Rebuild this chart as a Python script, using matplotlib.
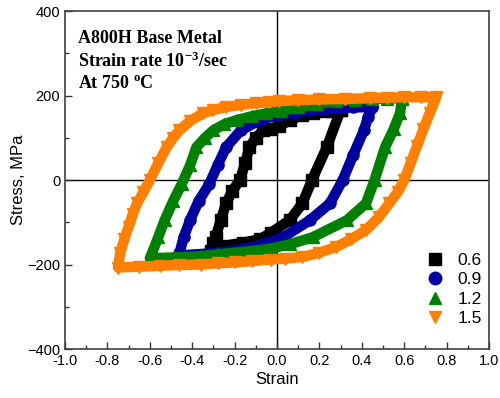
import matplotlib
matplotlib.use("Agg")
import matplotlib.pyplot as plt
from matplotlib.ticker import MultipleLocator, FormatStrFormatter

# hysteresis loops: (strain %, stress MPa)
# each loop starts at the tension tip, runs down the unloading branch,
# along the compression side and back up
labels = ["0.6", "0.9", "1.2", "1.5"]

strain_06 = [0.30, 0.235, 0.165, 0.12, 0.06, -0.03, -0.08, -0.16, -0.24, -0.31,
             -0.30, -0.29, -0.265, -0.24, -0.21, -0.175, -0.15, -0.13, -0.10, -0.065,
             -0.03, 0.01, 0.06, 0.12, 0.17, 0.22, 0.26, 0.30]
stress_06 = [166, 78, 0, -55, -95, -125, -140, -148, -155, -168,
             -150, -135, -95, -55, -25, 0, 40, 78, 100, 118,
             122, 127, 142, 154, 159, 163, 164, 166]

strain_09 = [0.45, 0.43, 0.41, 0.36, 0.31, 0.25, 0.155, 0.03, -0.05, -0.13, -0.21, -0.33, -0.45,
             -0.46, -0.44, -0.41, -0.37, -0.32, -0.28, -0.24, -0.17, -0.08, 0.01, 0.08,
             0.15, 0.22, 0.28, 0.36, 0.45]
stress_09 = [172, 150, 118, 60, 0, -55, -95, -135, -150, -160, -168, -174, -178,
             -173, -135, -95, -50, -10, 35, 78, 118, 142, 155, 160,
             165, 168, 170, 172, 173]

strain_12 = [0.59, 0.58, 0.55, 0.51, 0.46, 0.42, 0.33, 0.17, 0.06, -0.03, -0.12, -0.20, -0.28, -0.36, -0.48, -0.60,
             -0.59, -0.56, -0.53, -0.49, -0.45, -0.41, -0.38, -0.34, -0.30, -0.25, -0.19, -0.12, -0.05,
             0.02, 0.10, 0.19, 0.28, 0.37, 0.45, 0.52, 0.59]
stress_12 = [192, 158, 120, 78, 0, -55, -95, -135, -152, -162, -168, -172, -176, -180, -183, -185,
             -173, -135, -95, -50, -10, 35, 78, 100, 118, 132, 142, 151, 158,
             164, 172, 180, 188, 190, 192, 193, 194]

strain_15 = [0.75, 0.72, 0.69, 0.66, 0.63, 0.60, 0.57, 0.53, 0.48, 0.42, 0.35, 0.28, 0.20, 0.12, 0.04,
             -0.03, -0.12, -0.20, -0.28, -0.36, -0.46, -0.55, -0.65, -0.75,
             -0.74, -0.72, -0.70, -0.68, -0.66, -0.63, -0.60, -0.56, -0.52, -0.49, -0.46, -0.41,
             -0.35, -0.30, -0.24, -0.17, -0.10, -0.04, 0.01, 0.10, 0.20, 0.32, 0.44, 0.52, 0.60, 0.68, 0.75]
stress_15 = [195, 158, 120, 80, 40, 0, -28, -55, -88, -118, -140, -158, -172, -182, -186,
             -188, -192, -195, -197, -200, -201, -203, -205, -207,
             -173, -140, -110, -80, -55, -28, 0, 40, 78, 100, 118, 140,
             158, 166, 173, 178, 182, 184, 187, 189, 191, 192, 194, 195, 196, 196, 197]

loops = [(strain_06, stress_06), (strain_09, stress_09), (strain_12, stress_12), (strain_15, stress_15)]
colors = ["black", "#0000a0", "#008000", "#ff8000"]
markers = ["s", "o", "^", "v"]

plt.rcParams["font.family"] = ["Liberation Sans", "DejaVu Sans"]
plt.rcParams["mathtext.fontset"] = "custom"
plt.rcParams["mathtext.rm"] = "Liberation Serif:bold"
plt.rcParams["mathtext.default"] = "rm"

fig = plt.figure(figsize=(5.0, 3.98), dpi=100)
ax = fig.add_axes([0.13, 0.123, 0.848, 0.849])

for (x, y), c, m, lab in zip(loops, colors, markers, labels):
    ax.plot(x, y, color=c, lw=7.5, solid_joinstyle="round", solid_capstyle="round")
    ax.plot(x, y, ls="none", marker=m, ms=8, color=c, mec=c)
    ax.plot([], [], ls="none", marker=m, ms=9, color=c, label=lab)

ax.axhline(0, color="black", lw=1, zorder=0)
ax.axvline(0, color="black", lw=1, zorder=0)

ax.set_xlim(-1.0, 1.0)
ax.set_ylim(-400, 400)
ax.xaxis.set_major_locator(MultipleLocator(0.2))
ax.xaxis.set_minor_locator(MultipleLocator(0.1))
ax.yaxis.set_major_locator(MultipleLocator(200))
ax.yaxis.set_minor_locator(MultipleLocator(100))
ax.xaxis.set_major_formatter(FormatStrFormatter("%.1f"))
ax.tick_params(which="both", direction="in", top=False, right=False, labelsize=10.5, color="#333333")
ax.tick_params(which="major", length=5, width=1)
ax.tick_params(which="minor", length=3, width=1)
for s in ax.spines.values():
    s.set_color("#404040")
    s.set_linewidth(1.2)

ax.set_xlabel("Strain", fontsize=12, labelpad=3)
ax.set_ylabel("Stress, MPa", fontsize=12, labelpad=1)

ax.text(0.03, 0.945, "A800H Base Metal\nStrain rate 10$^{-3}$/sec\nAt 750 $^{o}$C",
        transform=ax.transAxes, va="top", ha="left", fontsize=13, fontweight="bold",
        family="Liberation Serif", linespacing=1.3)

ax.legend(loc="lower right", bbox_to_anchor=(0.995, 0.052), frameon=False, fontsize=12.5,
          handletextpad=0.8, labelspacing=0.25, borderaxespad=0, handlelength=1.0, borderpad=0.3)

fig.savefig("out.png", dpi=100)
